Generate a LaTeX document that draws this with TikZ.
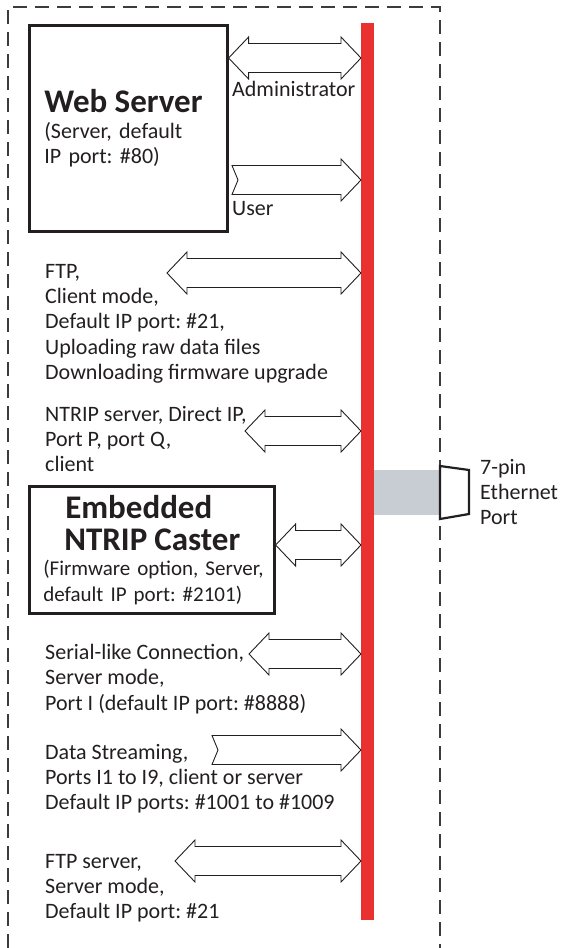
\documentclass[tikz,border=0pt]{standalone}
\usepackage{fontspec}
\setmainfont{Carlito}
\frenchspacing
\usetikzlibrary{calc}

% block arrows between a point on the left and the bar on the right
\newcommand{\dblarrow}[2]{%
  \draw[blockarrow] let \p1=(#1), \p2=(#2) in
    (\x1,\y1) -- (\x1+20pt,\y1+21pt) -- (\x1+20pt,\y1+14.5pt) -- (\x2-20pt,\y1+14.5pt)
    -- (\x2-20pt,\y1+21pt) -- (\x2,\y1) -- (\x2-20pt,\y1-21pt) -- (\x2-20pt,\y1-14.5pt)
    -- (\x1+20pt,\y1-14.5pt) -- (\x1+20pt,\y1-21pt) -- cycle;}
\newcommand{\sglarrow}[2]{%
  \draw[blockarrow] let \p1=(#1), \p2=(#2) in
    (\x1+6pt,\y1) -- (\x1,\y1+14.5pt) -- (\x2-20pt,\y1+14.5pt) -- (\x2-20pt,\y1+21pt)
    -- (\x2,\y1) -- (\x2-20pt,\y1-21pt) -- (\x2-20pt,\y1-14.5pt) -- (\x1,\y1-14.5pt) -- cycle;}

\begin{document}
\begin{tikzpicture}[x=1pt, y=-1pt]

  % Colors
  \definecolor{barRed}{RGB}{233,50,47}
  \definecolor{linkGray}{RGB}{200,204,211}
  \definecolor{textDark}{RGB}{35,31,32}
  \definecolor{frameGray}{RGB}{60,60,60}

  \tikzset{
    txt/.style={anchor=north west, inner sep=0pt, align=left, text=textDark, font=\fontsize{22}{25.3}\selectfont},
    box/.style={txt, draw=textDark, line width=2.6pt, fill=white},
    blockarrow/.style={draw=textDark, line width=0.9pt, fill=white},
    frame/.style={draw=frameGray, line width=1.1pt, dash pattern=on 14pt off 8pt},
  }
  \newcommand{\ttl}[1]{{\fontsize{33}{34}\selectfont\bfseries #1}}

  \useasboundingbox (0,0) rectangle (561,948);

  % --- Frame and bus bar
  \draw[frame] (8,948) -- (8,7) -- (440,7) -- (440,948);
  \node[fill=barRed, inner sep=0pt, minimum width=13, minimum height=897, anchor=north west] (bar) at (361,23) {};

  % --- Ethernet port
  \node[fill=linkGray, inner sep=0pt, minimum width=66, minimum height=45, anchor=north west] (link) at (374,470) {};
  \draw[draw=textDark, line width=2.2pt, fill=white] (440,466) -- (469,470) -- (469,514) -- (440,519) -- cycle;
  \node[txt] (portlab) at (480,459) {7-pin\\Ethernet\\Port};

  % --- Boxes
  \node[box, minimum width=198, minimum height=206, text width=168, inner xsep=15pt] (web) at (28,24)
    {\ttl{Web Server}\\(Server, default\\IP port: \#80)};
  \node[box, font=\fontsize{21}{25.3}\selectfont, minimum width=245, minimum height=127, text width=217, inner xsep=14pt] (cast) at (28,485)
    {\hspace*{22pt}\ttl{Embedded}\\[7pt]\hspace*{21pt}\ttl{NTRIP Caster}\\\mbox{(Firmware option, Server,}\\\mbox{default IP port: \#2101)}};

  % --- Labels
  \node[txt] (admintxt) at (232,81) {Administrator};
  \node[txt] (usertxt) at (232,201) {User};
  \node[txt] (ftpc) at (45,264) {FTP,\\Client mode,\\Default IP port: \#21,\\Uploading raw data files\\Downloading firmware upgrade};
  \node[txt] (ntrip) at (45,406) {NTRIP server, Direct IP,\\Port P, port Q,\\client};
  \node[txt] (serial) at (45,644) {Serial-like Connection,\\Server mode,\\Port I (default IP port: \#8888)};
  \node[txt] (stream) at (45,744) {Data Streaming,\\Ports I1 to I9, client or server\\Default IP ports: \#1001 to \#1009};
  \node[txt] (ftps) at (45,854) {FTP server,\\Server mode,\\Default IP port: \#21};

  % --- Arrow rows
  \coordinate (admin) at (0,58);
  \coordinate (userL) at (232,180);
  \coordinate (ftpcL) at (167,273);
  \coordinate (ntripL) at (245,431);
  \coordinate (castR) at (0,545);
  \coordinate (serialL) at (249,654);
  \coordinate (streamL) at (212,750);
  \coordinate (ftpsL) at (175,861);

  \dblarrow{web.east |- admin}{bar.west |- admin}
  \sglarrow{userL}{bar.west |- userL}
  \dblarrow{ftpcL}{bar.west |- ftpcL}
  \dblarrow{ntripL}{bar.west |- ntripL}
  \dblarrow{cast.east |- castR}{bar.west |- castR}
  \dblarrow{serialL}{bar.west |- serialL}
  \sglarrow{streamL}{bar.west |- streamL}
  \dblarrow{ftpsL}{bar.west |- ftpsL}

\end{tikzpicture}
\end{document}
